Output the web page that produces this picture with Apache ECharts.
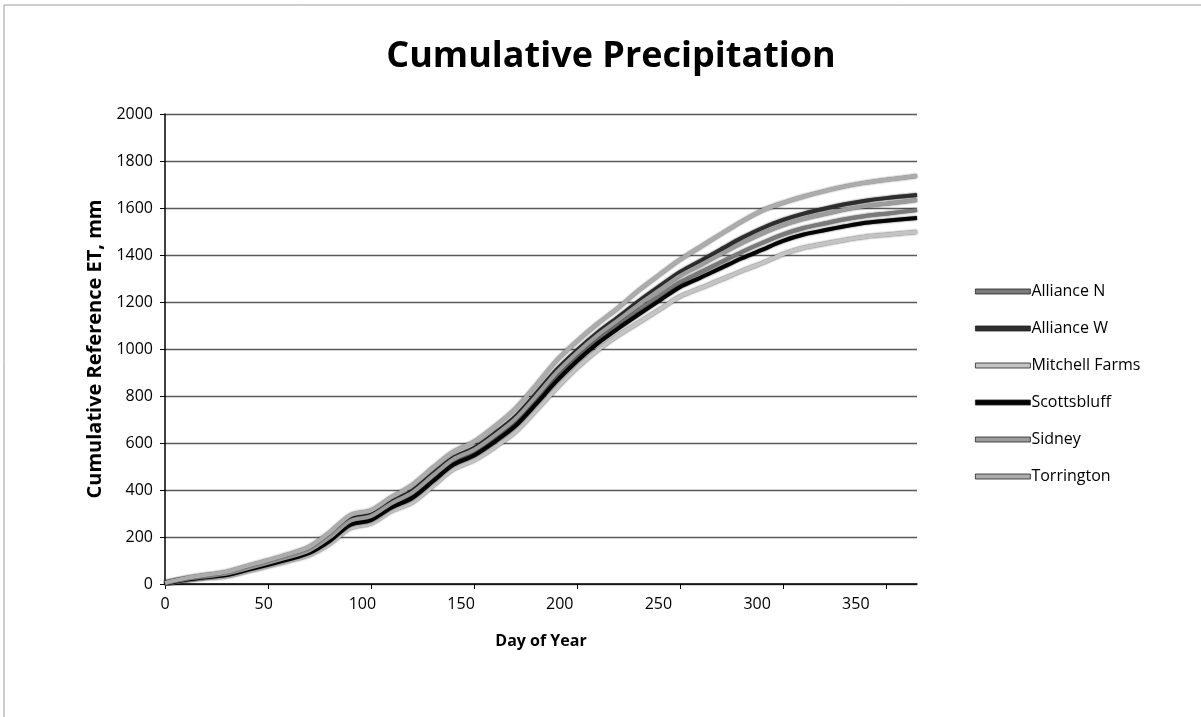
<!DOCTYPE html>
<html>
<head>
<meta charset="utf-8">
<script src="https://cdn.jsdelivr.net/npm/echarts@6/dist/echarts.min.js"></script>
<style>html,body{margin:0;padding:0;background:#fff;}#c{width:1201px;height:717px;}</style>
</head>
<body>
<div id="c"></div>
<script>
const days = [0,10,20,30,40,50,60,70,80,90,100,110,120,130,140,150,160,170,180,190,200,210,220,230,240,250,260,270,280,290,300,310,320,330,340,350,365];
const allianceN = [3,19,31,40,63,85,109,136,190,259,279,334,375,447,517,557,616,685,779,878,963,1038,1103,1166,1225,1284,1327,1370,1413,1452,1488,1515,1534,1552,1566,1576,1591];
const allianceW = [4,22,34,46,69,93,117,146,204,275,295,350,396,469,538,579,641,712,809,911,995,1070,1136,1204,1267,1328,1376,1425,1473,1515,1549,1576,1597,1616,1631,1642,1655];
const mitchell = [1,15,25,33,54,76,98,123,171,238,258,311,347,417,489,527,582,647,738,833,920,995,1058,1113,1168,1224,1260,1295,1332,1366,1404,1431,1448,1464,1478,1486,1498];
const scottsbluff = [2,18,29,38,60,82,105,132,184,252,272,326,366,437,508,547,605,672,765,863,949,1024,1088,1148,1206,1264,1304,1345,1386,1423,1460,1487,1505,1522,1537,1546,1557];
const sidney = [3,21,33,44,67,90,114,143,199,269,289,344,389,461,531,571,632,702,798,899,984,1059,1124,1190,1251,1312,1358,1405,1451,1492,1527,1554,1574,1593,1608,1618,1634];
const torrington = [5,25,39,52,77,101,127,158,220,293,313,370,421,495,563,605,670,745,845,950,1033,1108,1175,1250,1316,1380,1435,1490,1543,1590,1622,1649,1672,1692,1708,1720,1736];
const seriesNames = ['Alliance N','Alliance W','Mitchell Farms','Scottsbluff','Sidney','Torrington'];
const seriesColors = ['#7a7a7a','#2e2e2e','#c4c4c4','#050505','#9c9c9c','#acacac'];
const xTicks = [0,50,100,150,200,250,300,350];

const allData = [allianceN, allianceW, mitchell, scottsbluff, sidney, torrington];
const font = "'Open Sans', 'Noto Sans', sans-serif";

const chart = echarts.init(document.getElementById('c'), null, {renderer: 'canvas'});
chart.setOption({
  backgroundColor: '#fff',
  animation: false,
  title: {
    text: 'Cumulative Precipitation',
    left: 606, top: 34, textAlign: 'center',
    textStyle: {fontFamily: font, fontSize: 36, fontWeight: 'bold', color: '#000'}
  },
  graphic: [{
    type: 'rect', shape: {x: 4, y: 5, width: 1210, height: 730},
    style: {fill: 'none', stroke: '#9a9a9a', lineWidth: 1}, silent: true
  }],
  legend: {
    orient: 'vertical', left: 970, top: 278,
    itemWidth: 55, itemHeight: 5, itemGap: 20,
    icon: 'rect',
    data: seriesNames,
    itemStyle: {borderColor: '#222', borderWidth: 0.8},
    textStyle: {fontFamily: font, fontSize: 16, color: '#000', padding: [0,0,0,-4], lineHeight: 17}
  },
  grid: {left: 165, right: 284, top: 114, bottom: 133},
  xAxis: [{
    type: 'value', min: 0, max: 365,
    axisLine: {show: true, lineStyle: {color: '#000', width: 1.5}},
    axisTick: {show: true, length: 5, inside: false, customValues: xTicks, lineStyle: {color: '#000'}},
    axisLabel: {show: false},
    splitLine: {show: false}
  }, {
    type: 'value', min: 0, max: 381, interval: 50, position: 'bottom',
    axisLine: {show: false}, axisTick: {show: false}, splitLine: {show: false},
    axisLabel: {show: true, showMaxLabel: false, margin: 12, fontFamily: font, fontSize: 16, color: '#000'},
    name: 'Day of Year', nameLocation: 'middle', nameGap: 49,
    nameTextStyle: {fontFamily: font, fontSize: 16, fontWeight: 'bold', color: '#000'}
  }],
  yAxis: {
    type: 'value', min: 0, max: 2000, interval: 200,
    axisLine: {show: true, lineStyle: {color: '#000', width: 1.5}},
    axisTick: {show: true, length: 5, lineStyle: {color: '#000'}},
    axisLabel: {margin: 12, fontFamily: font, fontSize: 16, color: '#000', formatter: v => String(v)},
    splitLine: {show: true, lineStyle: {color: '#5a5a5a', width: 1.3}},
    name: 'Cumulative Reference ET, mm', nameLocation: 'middle', nameGap: 50,
    nameTextStyle: {fontFamily: font, fontSize: 20, fontWeight: 'bold', color: '#000'}
  },
  series: seriesNames.map((n, i) => ({
    name: n, type: 'line', xAxisIndex: 0, symbol: 'none', smooth: 0.3,
    data: days.map((d, j) => [d, allData[i][j]]),
    itemStyle: {color: seriesColors[i]},
    lineStyle: {color: seriesColors[i], width: 4, shadowColor: 'rgba(0,0,0,0.7)', shadowBlur: 2}
  }))
});
</script>
</body>
</html>
